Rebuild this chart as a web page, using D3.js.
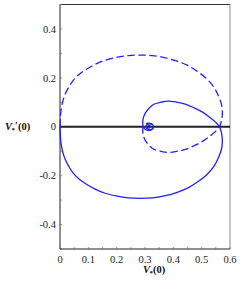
<!DOCTYPE html>
<html>
<head>
<meta charset="utf-8">
<script src="https://cdn.jsdelivr.net/npm/d3@7"></script>
<style>
  html, body { margin: 0; padding: 0; background: #fff; }
  svg { display: block; }
  .tick-label { font-family: "Liberation Serif", "DejaVu Serif", serif; font-size: 10.5px; fill: #222; }
  .axis-title { font-family: "Liberation Serif", "DejaVu Serif", serif; font-size: 10.5px; fill: #111; font-weight: bold; }
</style>
</head>
<body>
<div id="chart"></div>
<script>
// solid branch: big loop below the axis, smaller loop above it, then the tiny spiral
const solidX = [0, 0.001, 0.0035, 0.0088, 0.0177, 0.030, 0.046, 0.067, 0.092, 0.124, 0.159, 0.198, 0.241,
  0.283, 0.326, 0.368, 0.411, 0.450, 0.485, 0.517, 0.542, 0.559, 0.570, 0.573, 0.570, 0.563,
  0.549, 0.527, 0.503, 0.474, 0.442, 0.411, 0.382, 0.358, 0.333, 0.315, 0.301, 0.294, 0.292, 0.294,
  0.301, 0.312, 0.322, 0.329, 0.329, 0.322, 0.312, 0.304, 0.306, 0.315, 0.320];
const solidY = [0, -0.034, -0.066, -0.099, -0.132, -0.160, -0.189, -0.214, -0.234, -0.255, -0.272, -0.283, -0.291,
  -0.293, -0.291, -0.283, -0.269, -0.251, -0.226, -0.197, -0.164, -0.127, -0.091, -0.054, -0.026, 0,
  0.019, 0.040, 0.060, 0.077, 0.093, 0.101, 0.105, 0.101, 0.093, 0.077, 0.056, 0.036, 0.015, 0,
  -0.011, -0.015, -0.013, -0.005, 0.005, 0.011, 0.011, 0.005, -0.003, -0.005, -0.001];
// dashed branch mirrors it about V' = 0
const dashedX = solidX.slice();
const dashedY = solidY.map(v => -v);

const xTicks = [0, 0.1, 0.2, 0.3, 0.4, 0.5, 0.6];
const yTicks = [-0.4, -0.2, 0, 0.2, 0.4];
const xMinor = d3.range(0, 0.6001, 0.05);
const yMinor = d3.range(-0.5, 0.5001, 0.1);

const width = 240, height = 287;
const plot = { left: 60, right: 230, top: 4.5, bottom: 249 };

const svg = d3.select('#chart').append('svg')
  .attr('width', width).attr('height', height);

const x = d3.scaleLinear().domain([0, 0.6]).range([plot.left, plot.right]);
const y = d3.scaleLinear().domain([-0.5, 0.5]).range([plot.bottom, plot.top]);

const fmt = d => (d === 0 ? '0' : d3.format('.1f')(d).replace('−', '-'));

// frame
svg.append('line').attr('x1', plot.left).attr('x2', plot.right).attr('y1', plot.top).attr('y2', plot.top)
  .attr('stroke', '#333').attr('stroke-width', 1);
svg.append('line').attr('x1', plot.right).attr('x2', plot.right).attr('y1', plot.top).attr('y2', plot.bottom)
  .attr('stroke', '#888').attr('stroke-width', 1);

// left axis, ticks drawn inward
const yAxis = svg.append('g').attr('transform', `translate(${plot.left},0)`);
yAxis.append('line').attr('y1', plot.top).attr('y2', plot.bottom).attr('stroke', '#222');
yAxis.selectAll('.minor').data(yMinor).join('line')
  .attr('x1', 0).attr('x2', 2).attr('y1', d => y(d)).attr('y2', d => y(d))
  .attr('stroke', '#666').attr('stroke-width', 0.7);
yAxis.selectAll('text').data(yTicks).join('text')
  .attr('class', 'tick-label')
  .attr('x', -4).attr('y', d => y(d)).attr('dy', '0.35em')
  .attr('text-anchor', 'end')
  .text(fmt);

// bottom axis
const xAxis = svg.append('g').attr('transform', `translate(0,${plot.bottom})`);
xAxis.append('line').attr('x1', plot.left).attr('x2', plot.right).attr('stroke', '#222');
xAxis.selectAll('.minor').data(xMinor).join('line')
  .attr('x1', d => x(d)).attr('x2', d => x(d)).attr('y1', 0).attr('y2', -2)
  .attr('stroke', '#666').attr('stroke-width', 0.7);
xAxis.selectAll('text').data(xTicks).join('text')
  .attr('class', 'tick-label')
  .attr('x', d => x(d)).attr('y', 13.5)
  .attr('text-anchor', 'middle')
  .text(fmt);

// zero line
svg.append('line')
  .attr('x1', x(0)).attr('x2', x(0.6)).attr('y1', y(0)).attr('y2', y(0))
  .attr('stroke', '#222').attr('stroke-width', 2);

const line = d3.line().x(d => x(d[0])).y(d => y(d[1])).curve(d3.curveCatmullRom.alpha(0.5));

svg.append('path')
  .datum(d3.zip(dashedX, dashedY))
  .attr('d', line)
  .attr('fill', 'none').attr('stroke', '#1f1fff').attr('stroke-width', 1.3)
  .attr('stroke-dasharray', '7.5,3.5');

svg.append('path')
  .datum(d3.zip(solidX, solidY))
  .attr('d', line)
  .attr('fill', 'none').attr('stroke', '#1f1fff').attr('stroke-width', 1.3);

// axis titles: italic V, subscript star, optional prime, then (0)
function title(x0, baseline, prime) {
  const t = svg.append('text').attr('class', 'axis-title').attr('x', x0).attr('y', baseline);
  t.append('tspan').attr('font-style', 'italic').text('V');
  t.append('tspan').attr('font-size', '7px').attr('dx', -0.5).attr('dy', 2.5).text('*');
  if (prime) {
    t.append('tspan').attr('dy', -3).text('′');
    t.append('tspan').attr('dy', 0.5).text('(0)');
  } else {
    t.append('tspan').attr('dy', -2.5).text('(0)');
  }
}
title(5, 129.5, true);
title(143, 272.5, false);
</script>
</body>
</html>
